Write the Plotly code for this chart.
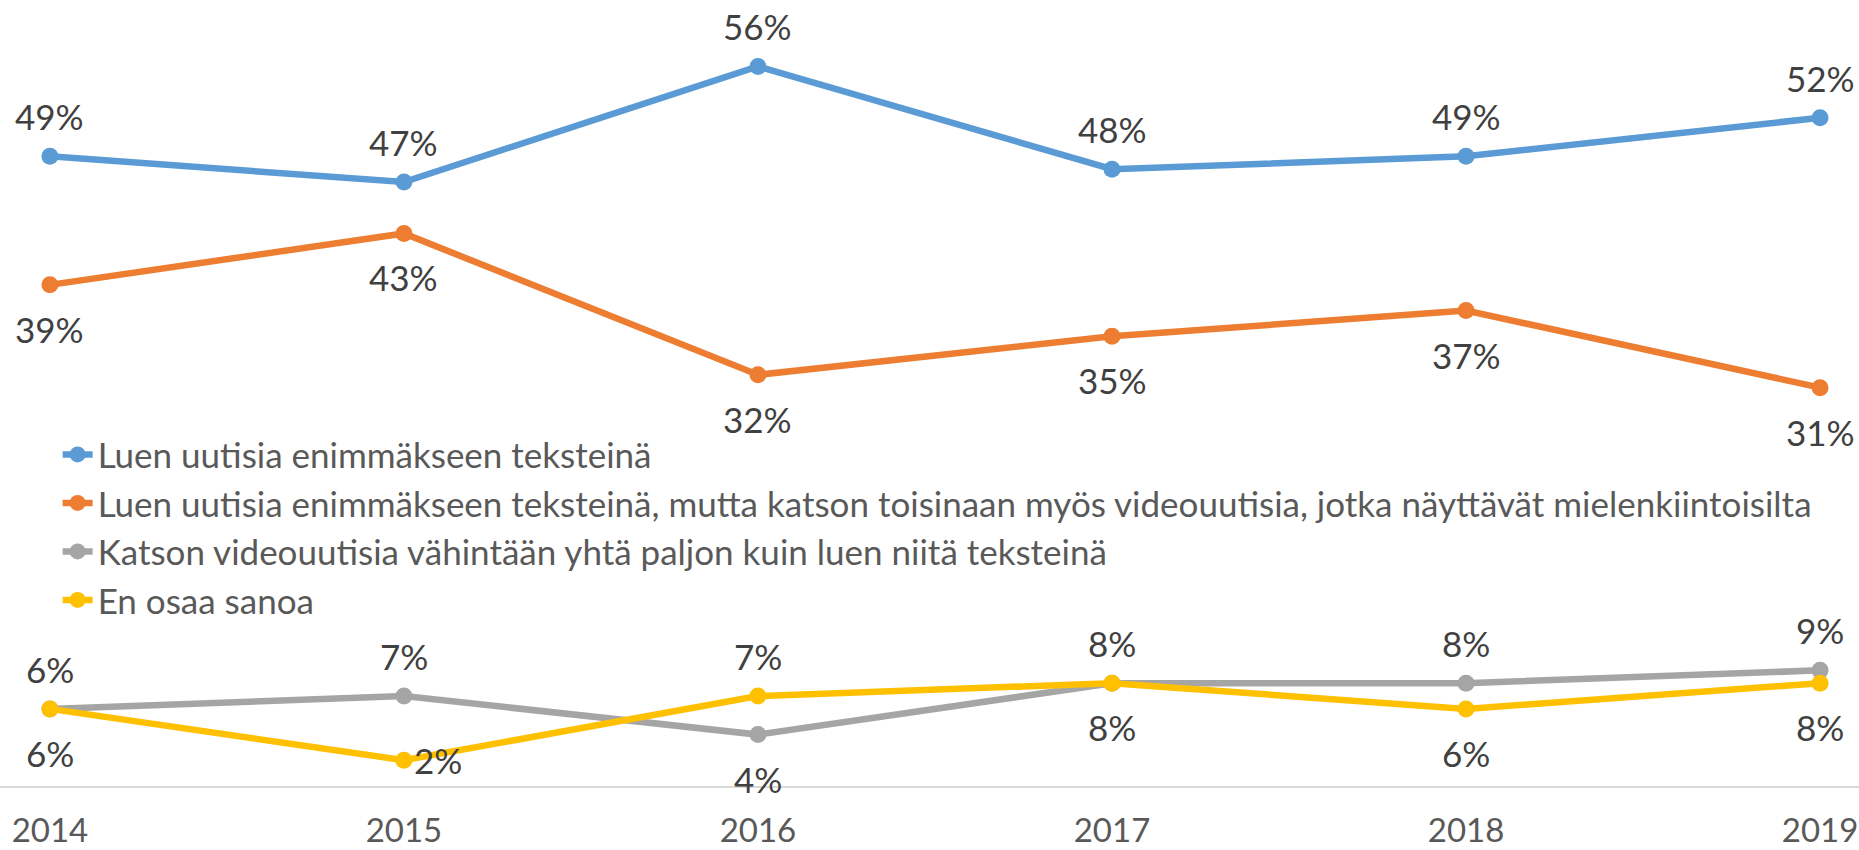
import plotly.graph_objects as go

# Survey years and the share (%) of respondents per answer
years = ["2014", "2015", "2016", "2017", "2018", "2019"]

series_names = [
    "Luen uutisia enimmäkseen teksteinä",
    "Luen uutisia enimmäkseen teksteinä, mutta katson toisinaan myös videouutisia, jotka näyttävät mielenkiintoisilta",
    "Katson videouutisia vähintään yhtä paljon kuin luen niitä teksteinä",
    "En osaa sanoa",
]
text_mostly = [49, 47, 56, 48, 49, 52]
text_some_video = [39, 43, 32, 35, 37, 31]
video_equal = [6, 7, 4, 8, 8, 9]
cant_say = [6, 2, 7, 8, 6, 8]

colors = ["#5B9BD5", "#ED7D31", "#A5A5A5", "#FFC000"]

# Where each value label sits relative to its point: "a" above, "b" below, "r" right
label_side = [
    ["a"] * 6,
    ["b"] * 6,
    ["a", "a", "b", "a", "a", "a"],
    ["b", "r", "a", "b", "b", "b"],
]

FONT = "Lato, Carlito, 'Open Sans', sans-serif"
LABEL_COLOR = "#404040"
TEXT_COLOR = "#595959"
FS = 35

fig = go.Figure()
all_values = [text_mostly, text_some_video, video_equal, cant_say]
for name, vals, col in zip(series_names, all_values, colors):
    fig.add_trace(go.Scatter(
        x=years, y=vals, name=name, mode="lines+markers",
        line=dict(color=col, width=6.5),
        marker=dict(color=col, size=17),
        hoverinfo="skip",
    ))

# Value labels; on a category axis annotations are placed by category index
annotations = []
for vals, sides in zip(all_values, label_side):
    for i, (v, s) in enumerate(zip(vals, sides)):
        dx, dy = 0, 0
        if s == "a":
            dy = 40
        elif s == "b":
            dy = -44
        else:
            dx = 34
        annotations.append(dict(
            x=i, y=v, xref="x", yref="y", text=f"{v}%", showarrow=False,
            xshift=dx, yshift=dy, xanchor="center", yanchor="middle",
            font=dict(family=FONT, size=FS, color=LABEL_COLOR),
        ))

fig.update_layout(
    width=1859, height=850,
    margin=dict(l=0, r=0, t=15, b=64, autoexpand=False),
    paper_bgcolor="white", plot_bgcolor="white",
    font=dict(family=FONT, size=FS, color=TEXT_COLOR),
    showlegend=True,
    legend=dict(
        x=0.031, y=0.468, xanchor="left", yanchor="top",
        bgcolor="rgba(0,0,0,0)", tracegroupgap=0,
        font=dict(family=FONT, size=FS, color=TEXT_COLOR),
    ),
    xaxis=dict(
        type="category", range=[-0.141, 5.11],
        showgrid=False, zeroline=False,
        showline=True, linecolor="#D9D9D9", linewidth=2,
        ticks="", ticklabelstandoff=14,
        tickfont=dict(family=FONT, size=33, color=TEXT_COLOR),
        automargin=False,
    ),
    yaxis=dict(
        range=[0, 60], visible=False, showgrid=False, zeroline=False,
        automargin=False,
    ),
    annotations=annotations,
)

fig.write_html("out.html")
